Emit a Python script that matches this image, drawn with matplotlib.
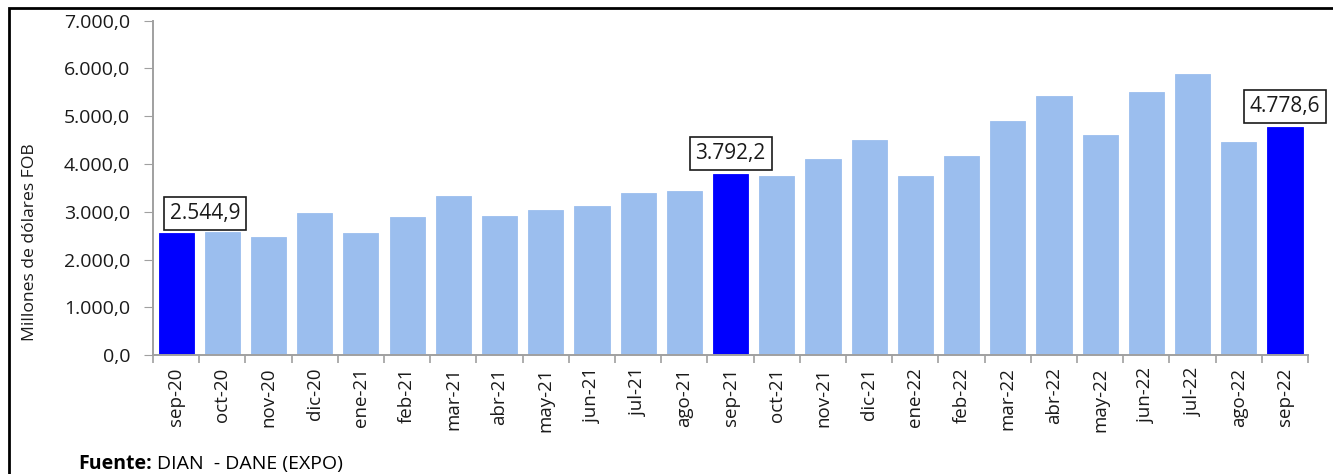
import matplotlib.pyplot as plt
from matplotlib.patches import Rectangle
from matplotlib.ticker import FuncFormatter, FixedLocator

plt.rcParams["font.family"] = ["Open Sans", "DejaVu Sans"]

months = ["sep-20", "oct-20", "nov-20", "dic-20", "ene-21", "feb-21", "mar-21",
          "abr-21", "may-21", "jun-21", "jul-21", "ago-21", "sep-21", "oct-21",
          "nov-21", "dic-21", "ene-22", "feb-22", "mar-22", "abr-22", "may-22",
          "jun-22", "jul-22", "ago-22", "sep-22"]
values = [2544.9, 2580.0, 2475.0, 2975.0, 2565.0, 2895.0, 3330.0,
          2920.0, 3040.0, 3125.0, 3400.0, 3425.0, 3792.2, 3755.0,
          4105.0, 4495.0, 3750.0, 4165.0, 4910.0, 5415.0, 4615.0,
          5500.0, 5890.0, 4470.0, 4778.6]
highlight = ["sep-20", "sep-21", "sep-22"]

light = "#9BBEEE"
dark = "#0000FF"


def fmt_es(v, pos=None):
    s = f"{v:,.1f}"
    return s.replace(",", "X").replace(".", ",").replace("X", ".")


fig = plt.figure(figsize=(13.33, 4.74), dpi=100)
ax = fig.add_axes([0.1148, 0.251, 0.8665, 0.7053])

x = list(range(len(months)))
colors = [dark if m in highlight else light for m in months]
ax.bar(x, values, width=0.76, color=colors, edgecolor=colors, linewidth=0.6,
       zorder=2)

ax.set_xlim(-0.5, len(months) - 0.5)
ax.set_ylim(0, 7000)
ax.set_yticks(range(0, 7001, 1000))
ax.yaxis.set_major_formatter(FuncFormatter(fmt_es))
ax.tick_params(axis="y", labelsize=14, length=6.5, color="#A0A0A0",
               labelcolor="#1a1a1a", pad=10)

ax.set_xticks(x)
ax.set_xticklabels(months, rotation=90, fontsize=13.5, color="#1a1a1a")
ax.tick_params(axis="x", which="major", length=0, pad=9)
ax.xaxis.set_minor_locator(FixedLocator([i - 0.5 for i in range(len(months) + 1)]))
ax.tick_params(axis="x", which="minor", length=6, color="#A0A0A0", width=1.2)

for side in ["top", "right"]:
    ax.spines[side].set_visible(False)
for side in ["left", "bottom"]:
    ax.spines[side].set_color("#A0A0A0")
    ax.spines[side].set_linewidth(1.4)

ax.set_ylabel("Millones de dólares FOB", fontsize=12.6, color="#1a1a1a")
ax.yaxis.set_label_coords(-0.1, 0.337)

# value boxes on the highlighted months
for m in highlight:
    i = months.index(m)
    dx = 21 if i == 0 else 0
    ax.annotate(fmt_es(values[i]), (i, values[i]), xytext=(dx, 7),
                textcoords="offset points", ha="center", va="bottom",
                fontsize=15, color="#1a1a1a",
                bbox=dict(boxstyle="square,pad=0.28", fc="white", ec="#1a1a1a",
                          lw=1.2))

# outer frame
fig.patches.append(Rectangle((0.0065, -0.1), 1.1, 1.083, transform=fig.transFigure,
                             fill=False, ec="black", lw=2))

fig.text(0.0585, 0.011, "Fuente:", fontsize=14, fontweight="bold", color="black")
fig.text(0.1178, 0.011, "DIAN  - DANE (EXPO)", fontsize=14, color="black")

fig.savefig("out.png", dpi=100)
